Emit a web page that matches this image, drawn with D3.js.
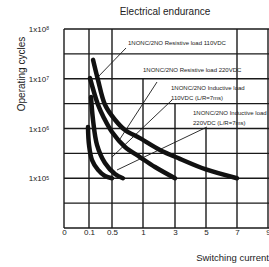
<!DOCTYPE html>
<html>
<head>
<meta charset="utf-8">
<script src="https://cdn.jsdelivr.net/npm/d3@7"></script>
<style>
  body { margin: 0; background: #fff; }
  text { font-family: "Liberation Sans Narrow", "Arial Narrow", "Liberation Sans", sans-serif; fill: #222; }
</style>
</head>
<body>
<div class="chart"></div>
<script>
// tick values
var xTicks = [0, 0.1, 0.5, 1, 3, 5, 7, 9];
var yTicks = [1e5, 1e6, 1e7, 1e8];
// where each vertical grid line starts (top), in operating cycles
var gridTop = [1e8, 1e8, 1e8, 1e7, Math.pow(10, 6.5), 1e6, 1e8, 1e8];
var gridRows = [4, 4.5, 5, 5.5, 6, 6.5, 7, 7.5, 8];

// curves: switching current (A) vs operating cycles
var resistive110X = [0.17, 0.257, 0.378, 0.548, 0.71, 0.95, 2.06, 3.32, 5, 7];
var resistive110Y = [2.4e7, 9.4e6, 3.0e6, 1.5e6, 9.3e5, 6.4e5, 3.7e5, 2.45e5, 1.5e5, 1.0e5];
var resistive220X = [0.117, 0.257, 0.36, 0.5, 0.71, 0.95, 1.75, 3];
var resistive220Y = [1.03e7, 3.0e6, 1.63e6, 8.5e5, 4.25e5, 2.67e5, 1.68e5, 1.0e5];
var inductive110X = [0.135, 0.17, 0.239, 0.378, 0.548, 0.677];
var inductive110Y = [4.3e6, 1.48e6, 4.7e5, 2.03e5, 1.22e5, 1.0e5];
var inductive220X = [0.096, 0.1, 0.152, 0.257, 0.378, 0.5];
var inductive220Y = [1.07e6, 4.7e5, 2.33e5, 1.47e5, 1.11e5, 1.0e5];

var labelLines = [
  ["1NONC/2NO Resistive load  110VDC"],
  ["1NONC/2NO Resistive load  220VDC"],
  ["1NONC/2NO Inductive load", "110VDC (L/R=7ms)"],
  ["1NONC/2NO Inductive load", "220VDC (L/R=7ms)"]
];

var svgWidth = 269;
var svgHeight = 267;

var svg = d3.select(".chart")
  .append("svg")
  .attr("width", svgWidth)
  .attr("height", svgHeight);

// x axis is not linear, the ticks sit at fixed spacing
var xScale = d3.scaleLinear()
  .domain(xTicks)
  .range([64, 89, 112, 143, 175, 206, 237, 268]);

var yScale = d3.scaleLog()
  .domain([1e4, 1e8])
  .range([228, 29]);

// title
svg.append("text")
  .attr("x", 165)
  .attr("y", 15)
  .attr("text-anchor", "middle")
  .attr("font-size", "10px")
  .text("Electrical endurance");

// grid
var grid = svg.append("g").attr("stroke", "#1a1a1a").attr("stroke-width", 1.4);

grid.selectAll("line.h")
  .data(gridRows)
  .enter()
  .append("line")
  .attr("x1", xScale(0))
  .attr("x2", xScale(9) + 1)
  .attr("y1", d => yScale(Math.pow(10, d)))
  .attr("y2", d => yScale(Math.pow(10, d)));

grid.selectAll("line.v")
  .data(xTicks)
  .enter()
  .append("line")
  .attr("x1", d => xScale(d))
  .attr("x2", d => xScale(d))
  .attr("y1", (d, i) => yScale(gridTop[i]))
  .attr("y2", yScale(1e4));

// axes
var bottomAxis = d3.axisBottom(xScale).tickValues(xTicks).tickSize(0).tickPadding(0).tickFormat(d3.format(""));
var xAxis = svg.append("g")
  .attr("transform", `translate(0, ${yScale(1e4) + 1})`)
  .call(bottomAxis);
xAxis.select(".domain").remove();
xAxis.selectAll("text").attr("font-size", "8px").attr("fill", "#222").attr("dy", "0.71em");

var leftAxis = d3.axisLeft(yScale).tickValues(yTicks).tickSize(0).tickPadding(0).tickFormat(() => "");
var yAxis = svg.append("g")
  .attr("transform", "translate(49, 0)")
  .call(leftAxis);
yAxis.select(".domain").remove();
yAxis.selectAll(".tick text").each(function(d) {
  var t = d3.select(this).attr("font-size", "8px").attr("fill", "#222");
  t.append("tspan").text("1x10");
  t.append("tspan").attr("dy", "-0.35em").attr("font-size", "5px").text(Math.round(Math.log10(d)));
});

svg.append("text")
  .attr("transform", "translate(25, 74) rotate(-90)")
  .attr("text-anchor", "middle")
  .attr("font-size", "10px")
  .text("Operating cycles");

svg.append("text")
  .attr("x", 269)
  .attr("y", 261)
  .attr("text-anchor", "end")
  .attr("font-size", "9.5px")
  .text("Switching current");

// label boxes and leader lines
var labelPos = [[128, 45], [143, 72], [171, 90], [193, 115]];
var leaders = [
  [[126, 48], [97, 78]],
  [[157, 82], [118, 142]],
  [[172, 100], [112, 157]],
  [[207, 127], [117, 170]]
];

svg.append("g")
  .selectAll("line")
  .data(leaders)
  .enter()
  .append("line")
  .attr("x1", d => d[0][0])
  .attr("y1", d => d[0][1])
  .attr("x2", d => d[1][0])
  .attr("y2", d => d[1][1])
  .attr("stroke", "#1a1a1a")
  .attr("stroke-width", 0.9);

labelLines.forEach(function(lines, i) {
  var t = svg.append("text")
    .attr("x", labelPos[i][0])
    .attr("y", labelPos[i][1])
    .attr("font-size", "6px");
  lines.forEach(function(s, j) {
    t.append("tspan")
      .attr("x", labelPos[i][0])
      .attr("dy", j === 0 ? 0 : "1.65em")
      .text(s);
  });
});

// curves
var series = [
  [resistive110X, resistive110Y],
  [resistive220X, resistive220Y],
  [inductive110X, inductive110Y],
  [inductive220X, inductive220Y]
];

var line = d3.line()
  .x(d => xScale(d[0]))
  .y(d => yScale(d[1]))
  .curve(d3.curveCatmullRom);

svg.append("g")
  .selectAll("path")
  .data(series)
  .enter()
  .append("path")
  .attr("d", s => line(s[0].map((x, i) => [x, s[1][i]])))
  .attr("fill", "none")
  .attr("stroke", "#111")
  .attr("stroke-width", 4.5)
  .attr("stroke-linecap", "round");
</script>
</body>
</html>
